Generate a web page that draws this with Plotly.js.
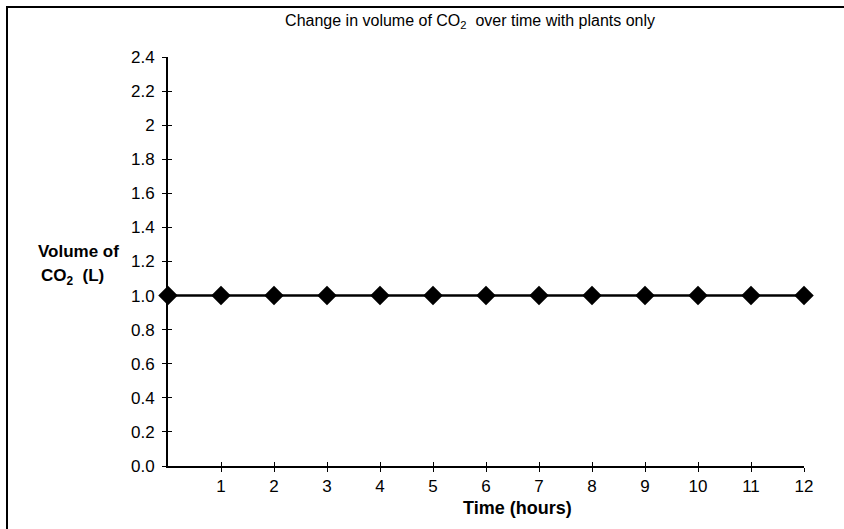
<!DOCTYPE html>
<html><head><meta charset="utf-8">
<script src="https://cdn.plot.ly/plotly-3.0.1.min.js"></script>
<style>
html,body{margin:0;padding:0;background:#fff;}
#wrap{position:relative;width:844px;height:529px;}
#chart{position:absolute;left:0;top:0;width:844px;height:529px;}
#frame{position:absolute;left:6px;top:6px;right:0;bottom:0;border-left:2px solid #000;border-top:2px solid #000;pointer-events:none;}
</style></head>
<body><div id="wrap"><div id="chart"></div><div id="frame"></div></div>
<script>
var timeHours = [0,1,2,3,4,5,6,7,8,9,10,11,12];
var co2Volume = [1.0,1.0,1.0,1.0,1.0,1.0,1.0,1.0,1.0,1.0,1.0,1.0,1.0];
var xTickVals = [1,2,3,4,5,6,7,8,9,10,11,12];
var xTickText = ["1","2","3","4","5","6","7","8","9","10","11","12"];
var yTickVals = [0,0.2,0.4,0.6,0.8,1.0,1.2,1.4,1.6,1.8,2.0,2.2,2.4];
var yTickText = ["0.0","0.2","0.4","0.6","0.8","1.0","1.2","1.4","1.6","1.8","2","2.2","2.4"];
var titleText = "Change in volume of CO<sub>2</sub>  over time with plants only";
var yTitleLine1 = "Volume of";
var yTitleLine2 = "CO<sub>2</sub>  (L)";
var xTitleText = "Time (hours)";

var F = "Liberation Sans, Arial, sans-serif";
var trace = {
  x: timeHours, y: co2Volume, type: 'scatter', mode: 'lines+markers',
  line: {color: '#000', width: 2.5},
  marker: {symbol: 'diamond', size: 15, color: '#000'},
  cliponaxis: false, hoverinfo: 'none'
};
var layout = {
  width: 844, height: 529,
  margin: {l: 168, r: 40, t: 57, b: 63},
  paper_bgcolor: '#fff', plot_bgcolor: '#fff',
  showlegend: false,
  font: {family: F, color: '#000', size: 16},
  title: {text: titleText, font: {family: F, size: 16, color: '#000'}, x: 0.557, xanchor: 'center', y: 0.962, yanchor: 'middle'},
  xaxis: {
    range: [0, 12], tickvals: xTickVals, ticktext: xTickText,
    ticks: 'outside', ticklen: 4, tickwidth: 1, tickcolor: '#000',
    showline: true, linecolor: '#000', linewidth: 2, showgrid: false, zeroline: false,
    tickfont: {family: F, size: 17, color: '#000'}
  },
  xaxis2: {
    range: [0, 12], overlaying: 'x', tickvals: xTickVals, showticklabels: false,
    ticks: 'inside', ticklen: 4, tickwidth: 1, tickcolor: '#000', showgrid: false, zeroline: false, showline: false
  },
  yaxis: {
    range: [0, 2.4], tickvals: yTickVals, ticktext: yTickText,
    ticks: 'outside', ticklen: 4, tickwidth: 1, tickcolor: '#000', ticklabelstandoff: 4,
    showline: true, linecolor: '#000', linewidth: 2, showgrid: false, zeroline: false,
    tickfont: {family: F, size: 17, color: '#000'}
  },
  yaxis2: {
    range: [0, 2.4], overlaying: 'y', tickvals: yTickVals, showticklabels: false,
    ticks: 'inside', ticklen: 4, tickwidth: 1, tickcolor: '#000', showgrid: false, zeroline: false, showline: false
  },
  annotations: [
    {text: '<b>' + yTitleLine1 + '</b>', xref: 'paper', yref: 'paper', x: -0.1415, y: 0.524, xanchor: 'center', yanchor: 'middle',
     showarrow: false, font: {family: F, size: 17, color: '#000'}},
    {text: '<b>' + yTitleLine2 + '</b>', xref: 'paper', yref: 'paper', x: -0.150, y: 0.462, xanchor: 'center', yanchor: 'middle',
     showarrow: false, font: {family: F, size: 17, color: '#000'}},
    {text: '<b>' + xTitleText + '</b>', xref: 'paper', yref: 'paper', x: 0.550, y: -0.103, xanchor: 'center', yanchor: 'middle',
     showarrow: false, font: {family: F, size: 18, color: '#000'}}
  ]
};
var helper = {x: [0], y: [0], xaxis: 'x2', yaxis: 'y2', mode: 'markers', marker: {opacity: 0}, hoverinfo: 'none', showlegend: false};
Plotly.newPlot('chart', [trace, helper], layout, {displayModeBar: false, staticPlot: true});
</script></body></html>
